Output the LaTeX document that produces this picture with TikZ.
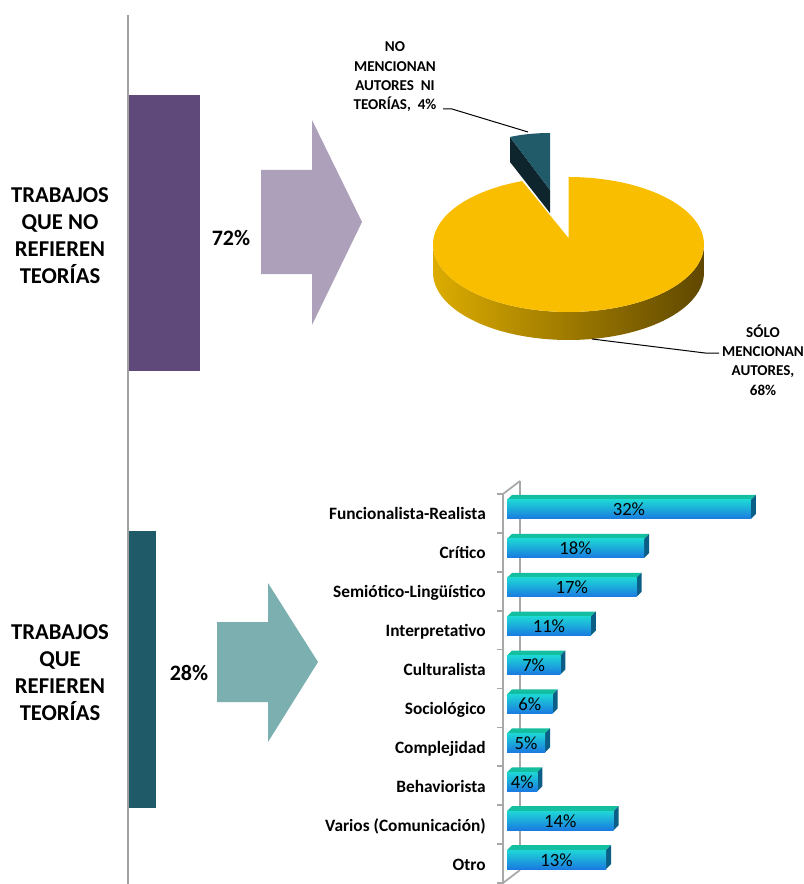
\documentclass[tikz,border=0pt]{standalone}
\usepackage{fontspec}
\setmainfont{Carlito}
\definecolor{purplebar}{HTML}{5F497A}
\definecolor{purplearrow}{HTML}{ADA0BB}
\definecolor{tealbar}{HTML}{1F5A68}
\definecolor{tealarrow}{HTML}{7CB0B0}
\definecolor{pieyellow}{HTML}{FABE00}
\definecolor{sideA}{HTML}{DCAC00}
\definecolor{sideB}{HTML}{9C7700}
\definecolor{sideC}{HTML}{5F4700}
\definecolor{slicelight}{HTML}{215B69}
\definecolor{slicedark}{HTML}{0F252D}
\definecolor{axisgray}{HTML}{A8A8A8}
\definecolor{linegray}{HTML}{A0A0A0}
\definecolor{bartopc}{HTML}{13BFA0}
\definecolor{barsidec}{HTML}{0B5F86}
\definecolor{barfrontT}{HTML}{1ED6D6}
\definecolor{barfrontM}{HTML}{18C6EC}
\definecolor{barfrontB}{HTML}{1A7AE0}
\begin{document}
\begin{tikzpicture}[x=0.75pt,y=-0.75pt,
  lbl/.style={font=\fontsize{17}{20.3}\selectfont\bfseries, align=center, inner sep=0},
  pctbig/.style={font=\fontsize{16.5}{19}\selectfont\bfseries, inner sep=0, anchor=base},
  pielbl/.style={font=\fontsize{11.3}{14.5}\selectfont\bfseries, align=center, inner sep=0},
  catlbl/.style={font=\fontsize{13}{15}\selectfont\bfseries, anchor=base east, inner sep=0},
  barpct/.style={font=\fontsize{14}{16}\selectfont, anchor=base, inner sep=0},
  axisline/.style={draw=axisgray, line width=1.3pt},
  leader/.style={draw=black, line width=0.75pt},
  bartop/.style={fill=bartopc},
  barside/.style={fill=barsidec},
  barfront/.style={top color=barfrontT, middle color=barfrontM, bottom color=barfrontB}]
\useasboundingbox (0,0) rectangle (803,884);

% ---------- top part ----------
\fill[purplebar] (129,95) rectangle (200,371);
\fill[purplearrow] (261,170) -- (312,170) -- (312,120) -- (362,222) -- (312,325) -- (312,274) -- (261,274) -- cycle;
\node[lbl] (lab1) at (60,236) {TRABAJOS\\QUE NO\\REFIEREN\\TEORÍAS};
\node[pctbig] (p72) at (231,245) {72\%};

% pie side
\shade[left color=sideA, middle color=sideB, right color=sideC]
  plot[domain=180:360, samples=80] ({568.5+135.5*cos(\x)},{244.5-67.5*sin(\x)})
  -- plot[domain=360:180, samples=80] ({568.5+135.5*cos(\x)},{272.5-67.5*sin(\x)}) -- cycle;
% pie top face
\fill[pieyellow] (568.5,238) -- (568.5,177)
  -- plot[domain=90:-250, samples=160] ({568.5+135.5*cos(\x)},{244.5-67.5*sin(\x)}) -- cycle;
% exploded slice
\fill[slicedark] (510,137) -- (510,162) -- (550,213) -- (550,190) -- cycle;
\fill[slicelight] (550,133) .. controls (535,133) and (521,134.5) .. (510,137) -- (550,190) -- cycle;

\node[pielbl] (pl1) at (395,77) {NO\\MENCIONAN\\AUTORES~~NI\\TEORÍAS,~~4\%};
\node[pielbl] (pl2) at (763,360) {SÓLO\\MENCIONAN\\AUTORES,\\68\%};
\coordinate (l1a) at (443,109);
\coordinate (l1b) at (452,109);
\coordinate (l1c) at (528,132);
\draw[leader] (l1a) -- (l1b) -- (l1c);
\coordinate (l2a) at (592,339);
\coordinate (l2b) at (705,353);
\coordinate (l2c) at (719,353);
\draw[leader] (l2a) -- (l2b) -- (l2c);

% ---------- bottom part ----------
\fill[tealbar] (129,531) rectangle (156,808);
\fill[tealarrow] (217,622) -- (268,622) -- (268,583) -- (318,662) -- (268,742) -- (268,702) -- (217,702) -- cycle;
\node[lbl] (lab2) at (60,673) {TRABAJOS\\QUE\\REFIEREN\\TEORÍAS};
\node[pctbig] (p28) at (189,680) {28\%};

% separator line
\draw[linegray, line width=1.3pt] (128,15) -- (128,884);

% axis
\draw[axisline] (520,481) -- (520,870);
\draw[axisline] (503,494) -- (520,481);
\draw[axisline] (503,883) -- (520,870);
\draw[axisline] (503,494) -- (503,884);
\foreach \j in {0,...,10}{
  \draw[axisline] (497,494+38.9*\j) -- (503,494+38.9*\j);
}

\foreach \p/\t [count=\k from 0] in {32/Funcionalista-Realista,18/Crítico,17/Semiótico-Lingüístico,11/Interpretativo,7/Culturalista,6/Sociológico,5/Complejidad,4/Behaviorista,14/Varios (Comunicación),13/Otro}{
  \pgfmathsetmacro\c{513.45+38.9*\k}
  \pgfmathsetmacro\L{507+7.62*\p}
  \fill[bartop] (507,\c-13.5) -- (512,\c-18.5) -- (\L+5,\c-18.5) -- (\L,\c-13.5) -- cycle;
  \fill[barside] (\L,\c-13.5) -- (\L+5,\c-18.5) -- (\L+5,\c+0.5) -- (\L,\c+5.5) -- cycle;
  \shade[barfront] (507,\c-13.5) rectangle (\L,\c+5.5);
  \node[barpct] (v\k) at ({(507+\L)/2},\c+2.5) {\p\%};
  \node[catlbl] (c\k) at (486,\c+6.5) {\t};
}
\end{tikzpicture}
\end{document}
